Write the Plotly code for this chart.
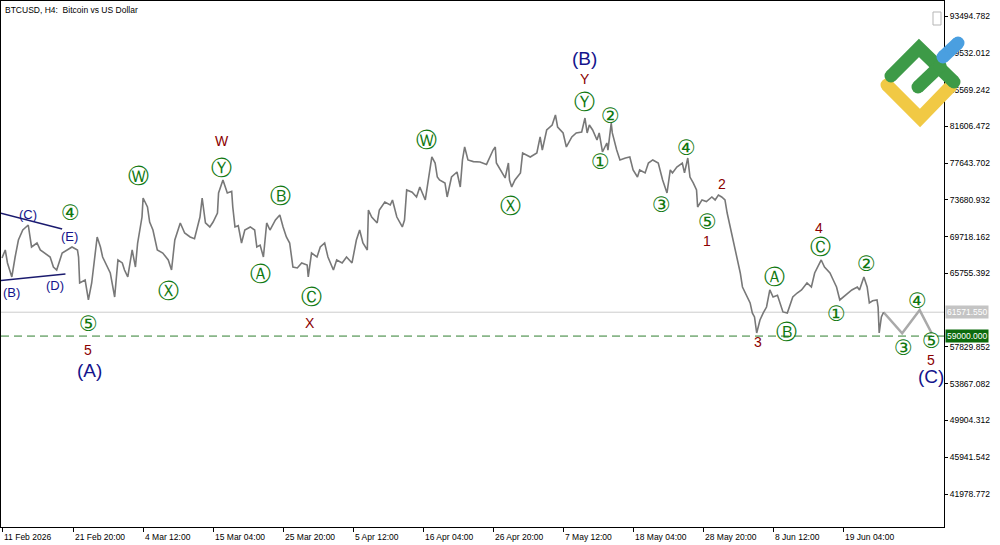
import pandas as pd
import plotly.graph_objects as go

# ---------------- data ----------------
start = pd.Timestamp("2026-02-11 00:00")
BAR_H = 4  # H4 bars

bar_no = [0, 3, 5, 9, 12, 15, 19, 24, 27, 32, 35, 39, 44, 47, 50, 55, 59, 64, 69, 70,
          71, 76, 79, 82, 87, 90, 92, 96, 99, 103, 106, 110, 112, 115, 119, 122, 124, 128, 129, 133,
          135, 138, 142, 147, 152, 155, 158, 163, 167, 172, 176, 181, 183, 186, 190, 193, 197, 198, 199, 202,
          206, 210, 211, 213, 216, 219, 222, 227, 231, 233, 236, 239, 242, 245, 250, 254, 257, 260, 263, 266,
          270, 274, 279, 280, 283, 288, 291, 295, 298, 303, 306, 311, 315, 320, 324, 327, 330, 334, 335, 338,
          343, 345, 350, 355, 357, 361, 366, 368, 370, 375, 379, 382, 387, 389, 393, 396, 398, 400, 405, 407,
          411, 416, 419, 421, 423, 426, 431, 437, 443, 449, 451, 452, 457, 460, 463, 464, 466, 469, 474, 476,
          483, 489, 492, 494, 498, 503, 506, 508, 513, 516, 521, 525, 530, 533, 535, 537, 540, 544, 546, 549,
          553, 554, 557, 558, 562, 565, 570, 574, 577, 581, 583, 588, 591, 595, 600, 604, 608, 611, 613, 617,
          622, 624, 627, 629, 632, 635, 636, 640, 644, 649, 652, 655, 658, 661, 663, 665, 668, 670, 673, 675,
          677, 681, 684, 686, 688, 690, 693, 696, 699, 702, 705, 709, 711, 714, 718, 720, 723, 727, 731, 736,
          740, 743, 746, 749, 752, 757, 760, 763, 766, 769, 773, 777, 782, 784, 788, 791, 793, 796, 800, 801,
          802, 804, 806]
price = [67420, 68280, 66880, 65370, 67520, 69350, 70430, 70970, 68600, 69030, 68280, 67950, 67520, 66440, 66120, 67950, 68280, 68600, 68280, 67520,
         64720, 65040, 62890, 64720, 69680, 68600, 67520, 66440, 65800, 63210, 67200, 66880, 66120, 65370, 68280, 66440, 69030, 71830, 73880, 72910,
         71290, 70430, 68280, 67950, 67200, 66120, 69350, 71190, 70110, 69680, 69500, 71830, 73880, 71190, 70760, 71290, 72260, 74420, 74740, 75820,
         74420, 74600, 72910, 70760, 70900, 69030, 70430, 70760, 70430, 68600, 68800, 67520, 71190, 70430, 71510, 72050, 70760, 69680, 69030, 66440,
         66340, 66880, 66660, 65370, 67950, 67520, 68600, 69030, 67520, 66120, 67200, 66880, 67520, 66880, 69350, 70430, 69030, 68280, 72590, 71830,
         71190, 72590, 73450, 73130, 73670, 71830, 70760, 71510, 74740, 74500, 73990, 75070, 73670, 75070, 78300, 77650, 76140, 75820, 75500, 73990,
         76140, 76680, 75070, 77980, 79380, 77980, 77800, 77760, 77500, 79050, 79380, 77650, 76580, 76040, 77650, 75820, 75070, 75820, 76580, 78730,
         78300, 78730, 80460, 79050, 81210, 81750, 82830, 81530, 80890, 79380, 80460, 80890, 80990, 82500, 80890, 81750, 81210, 80130, 80890, 78840,
         79810, 79050, 81960, 80890, 79050, 77980, 78190, 78300, 76900, 76140, 76900, 76580, 77650, 77980, 77650, 75820, 74420, 76900, 76580, 77220,
         77650, 76580, 78190, 76140, 75500, 74740, 72910, 73670, 73500, 73990, 73670, 74200, 73990, 73670, 72260, 71190, 69350, 68280, 66880, 65800,
         64290, 63210, 62570, 61490, 61060, 59330, 60730, 61490, 62130, 63970, 63210, 63400, 62570, 61600, 61490, 62130, 63210, 63640, 63970, 64720,
         64290, 65800, 66440, 67200, 66440, 65800, 65040, 64290, 62890, 63210, 63640, 63970, 64290, 63970, 65370, 64290, 62570, 62800, 62890, 62130,
         59330, 61060, 61571.55]

# forecast path (wave 3-4-5 of the last move)
proj_bar = [806, 823, 839, 850]
proj_price = [61571.55, 59300, 61800, 59300]

# triangle lines (B)-(D) and (C)-(E)
tri_up_bar, tri_up_price = [-1, 55], [72250, 70540]
tri_lo_bar, tri_lo_price = [-1, 58], [65000, 65690]

current_price = 61571.55
target_price = 59000.0

y_ticks = [93494.782, 89532.012, 85569.242, 81606.472, 77643.702, 73680.932, 69718.162,
           65755.392, 57829.852, 53867.082, 49904.312, 45941.542, 41978.772]

x_tick_times = ["2026-02-11 00:00", "2026-02-21 20:00", "2026-03-04 12:00", "2026-03-15 04:00",
                "2026-03-25 20:00", "2026-04-05 12:00", "2026-04-16 04:00", "2026-04-26 20:00",
                "2026-05-07 12:00", "2026-05-18 04:00", "2026-05-28 20:00", "2026-06-08 12:00",
                "2026-06-19 04:00"]
x_tick_text = ["11 Feb 2026", "21 Feb 20:00", "4 Mar 12:00", "15 Mar 04:00", "25 Mar 20:00",
               "5 Apr 12:00", "16 Apr 04:00", "26 Apr 20:00", "7 May 12:00", "18 May 04:00",
               "28 May 20:00", "8 Jun 12:00", "19 Jun 04:00"]

# wave labels: text, bar, price, kind
GREEN, RED, NAVY = "#107810", "#8b0000", "#14148c"
labels = [
    ("(C)", 24, 72156, "navys"), ("(E)", 62, 69678, "navys"), ("(B)", 9, 63642, "navys"),
    ("(D)", 48, 64397, "navys"), ("\u2463", 63, 72264, "circ"), ("\u2464", 79, 60302, "circ"),
    ("5", 79, 57500, "red"), ("(A)", 80, 55236, "navyl"),
    ("\u24CC", 125, 76251, "circ"), ("\u24CD", 152, 63858, "circ"),
    ("W", 201, 80000, "red"), ("\u24CE", 201, 77114, "circ"),
    ("\u24B7", 255, 74096, "circ"), ("\u24B6", 236, 65690, "circ"), ("\u24B8", 283, 63211, "circ"),
    ("X", 282, 60409, "red"), ("\u24CC", 388, 80131, "circ"), ("\u24CD", 465, 73018, "circ"),
    ("(B)", 533, 88968, "navyl"), ("Y", 533, 86700, "red"), ("\u24CE", 533, 84226, "circ"),
    ("\u2461", 556, 82718, "circ"), ("\u2460", 547, 77760, "circ"), ("\u2463", 626, 79269, "circ"),
    ("\u2462", 603, 73126, "circ"), ("2", 658, 75389, "red"), ("\u2464", 645, 71294, "circ"),
    ("1", 645, 69200, "red"), ("3", 691, 58362, "red"), ("\u24B6", 706, 65367, "circ"),
    ("\u24B7", 717, 59439, "circ"), ("4", 747, 70650, "red"), ("\u24B8", 748, 68600, "circ"),
    ("\u2461", 790, 66768, "circ"), ("\u2460", 763, 61379, "circ"), ("\u2463", 837, 62780, "circ"),
    ("\u2462", 824, 57715, "circ"), ("\u2464", 850, 58470, "circ"), ("5", 849, 56420, "red"),
    ("(C)", 849, 54590, "navyl"),
]

# ---------------- helpers ----------------
def t(b):
    return start + pd.Timedelta(hours=BAR_H * b)

W, H = 1000, 545
ML, MR, MT, MB = 1, 56, 1, 18
PW, PH = W - ML - MR, H - MT - MB
H_PER_PX = 256 / 70
x0 = start - pd.Timedelta(hours=(2 - ML) * H_PER_PX)
x1 = x0 + pd.Timedelta(hours=PW * H_PER_PX)
P_PER_PX = (93494.782 - 41978.772) / 478
y_top = 93494.782 + (16 - MT) * P_PER_PX
y_bot = y_top - PH * P_PER_PX

def paper(xp, yp):
    return (xp - ML) / PW, (H - MB - yp) / PH

fig = go.Figure()

fig.add_trace(go.Scatter(x=[t(b) for b in tri_up_bar], y=tri_up_price, mode="lines",
                         line=dict(color="#1a1a6e", width=1.5), hoverinfo="skip"))
fig.add_trace(go.Scatter(x=[t(b) for b in tri_lo_bar], y=tri_lo_price, mode="lines",
                         line=dict(color="#1a1a6e", width=1.5), hoverinfo="skip"))
fig.add_trace(go.Scatter(x=[t(b) for b in proj_bar], y=proj_price, mode="lines",
                         line=dict(color="#a9a9a9", width=2.5), hoverinfo="skip"))
fig.add_trace(go.Scatter(x=[t(b) for b in bar_no], y=price, mode="lines",
                         line=dict(color="#787878", width=1.6), name="BTCUSD"))

shapes = [
    dict(type="line", xref="paper", x0=0, x1=1, yref="y", y0=current_price, y1=current_price,
         line=dict(color="#cccccc", width=1), layer="below"),
    dict(type="line", xref="paper", x0=0, x1=1, yref="y", y0=target_price, y1=target_price,
         line=dict(color="#2f7f2f", width=1, dash="8px,5px")),
]

# logo strokes
def stroke(points, color, w=13):
    pp = [paper(*p) for p in points]
    path = "M " + " L ".join(f"{a:.5f},{b:.5f}" for a, b in pp)
    shapes.append(dict(type="path", xref="paper", yref="paper", path=path,
                       line=dict(color=color, width=w)))
    r = w / 2
    for (xp, yp) in (points[0], points[-1]):
        a0, b0 = paper(xp - r, yp + r)
        a1, b1 = paper(xp + r, yp - r)
        shapes.append(dict(type="circle", xref="paper", yref="paper", x0=a0, y0=b0, x1=a1, y1=b1,
                           fillcolor=color, line=dict(width=0)))

stroke([(887, 85), (920, 118), (951, 86)], "#f1c944")
stroke([(891, 76), (919, 48), (954, 82)], "#3d9a47")
stroke([(918, 87), (940, 66)], "#3d9a47")
stroke([(943, 57), (958, 43)], "#4a9fe0")

bx0, by0 = paper(933, 12)
bx1, by1 = paper(941, 25)
shapes.append(dict(type="rect", xref="paper", yref="paper", x0=bx0, y0=by1, x1=bx1, y1=by0,
                   line=dict(color="#b5b5b5", width=1), fillcolor="white"))

annotations = []
style = {
    "circ": dict(size=21, color=GREEN, family="DejaVu Sans"),
    "red": dict(size=14, color=RED, family="Liberation Sans"),
    "navys": dict(size=13, color=NAVY, family="Liberation Sans"),
    "navyl": dict(size=19, color=NAVY, family="Liberation Sans"),
}
for txt, b, p, kind in labels:
    annotations.append(dict(x=t(b), y=p, xref="x", yref="y", text=txt, showarrow=False,
                            xanchor="center", yanchor="middle", font=style[kind]))

for tt, lab in zip(x_tick_times, x_tick_text):
    annotations.append(dict(x=pd.Timestamp(tt), y=0, xref="x", yref="paper", text=lab,
                            showarrow=False, xanchor="left", yanchor="top", xshift=0, yshift=-3,
                            font=dict(size=8.5, color="#000000", family="Liberation Sans")))

for val, bg in ((current_price, "#c4c4c4"), (target_price, "#0d6b0d")):
    annotations.append(dict(x=1, y=val, xref="paper", yref="y", text=f"{val:.3f}", showarrow=False,
                            xanchor="left", yanchor="middle", xshift=1, bgcolor=bg, borderpad=1,
                            font=dict(size=8.5, color="white", family="Liberation Sans")))

tx, ty = paper(3, 3)
annotations.append(dict(x=tx, y=ty, xref="paper", yref="paper", text="BTCUSD, H4:  Bitcoin vs US Dollar",
                        showarrow=False, xanchor="left", yanchor="top",
                        font=dict(size=8.5, color="#000000", family="Liberation Sans")))

fig.update_layout(
    width=W, height=H, margin=dict(l=ML, r=MR, t=MT, b=MB),
    paper_bgcolor="white", plot_bgcolor="white", showlegend=False,
    shapes=shapes, annotations=annotations,
    xaxis=dict(type="date", range=[x0, x1], showgrid=False, zeroline=False,
               showline=True, linecolor="#000000", linewidth=1, mirror=True,
               ticks="outside", ticklen=4, tickcolor="#000000",
               tickvals=[pd.Timestamp(v) for v in x_tick_times], showticklabels=False),
    yaxis=dict(range=[y_bot, y_top], side="right", showgrid=False, zeroline=False,
               showline=True, linecolor="#000000", linewidth=1, mirror=True,
               ticks="outside", ticklen=3, tickcolor="#000000",
               tickvals=y_ticks, ticktext=[f"{v:.3f}" for v in y_ticks],
               tickfont=dict(size=8.5, color="#000000", family="Liberation Sans")),
)

fig.write_html("out.html")
